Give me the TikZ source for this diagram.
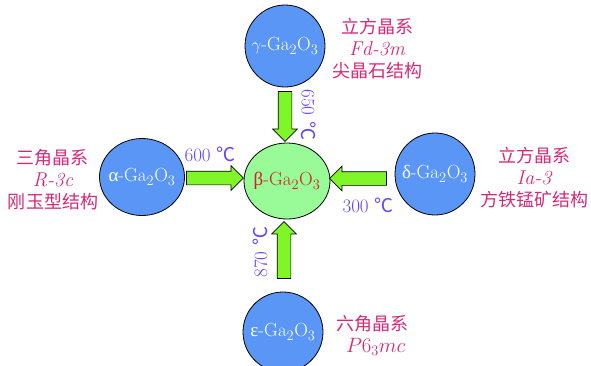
\documentclass[tikz,border=0pt]{standalone}
\usepackage{fontspec}
\newfontfamily\cjk{Noto Sans CJK SC}
\newfontfamily\grk{Liberation Serif}
\usetikzlibrary{shapes.geometric,shapes.arrows}
\definecolor{phaseblue}{RGB}{90,150,245}
\definecolor{betagreen}{RGB}{152,251,152}
\definecolor{arrowgreen}{RGB}{128,245,40}
\definecolor{labelpink}{RGB}{214,40,120}
\definecolor{tempblue}{RGB}{100,70,250}
\definecolor{betared}{RGB}{210,30,40}
\tikzset{
  phase/.style={ellipse,draw=black,line width=0.8pt,fill=phaseblue,
    inner sep=0pt,label={[text=white,font=\fontsize{19}{22}\selectfont]center:#1}},
  betaphase/.style={ellipse,draw=black,line width=0.8pt,fill=betagreen,
    inner sep=0pt,label={[text=betared,font=\fontsize{19}{22}\selectfont]center:#1}},
  blockarrow/.style={single arrow,draw=black,line width=0.7pt,fill=arrowgreen,
    minimum width=24pt,single arrow head extend=5.5pt,single arrow tip angle=90,
    inner xsep=0pt,inner ysep=6.5pt,minimum height=57pt},
  info/.style={text=labelpink,align=center,font=\fontsize{18}{22}\selectfont},
  temp/.style={text=tempblue,font=\fontsize{19}{20}\selectfont},
}
\newcommand{\gao}{-Ga$_2$O$_3$}
\newcommand{\degc}{{\cjk ℃}}
\newcommand{\latin}[1]{{\fontsize{20}{22}\selectfont\itshape #1}}
\begin{document}
\begin{tikzpicture}[x=1pt,y=-1pt]
\useasboundingbox (0,0) rectangle (591,365);
% phases
\node[phase={$\gamma$\gao},minimum width=80pt,minimum height=82pt] (gamma) at (285,46) {};
\node[phase={{\grk α}\gao},minimum width=85pt,minimum height=77pt] (alpha) at (142,177) {};
\node[betaphase={{\grk β}\gao},minimum width=86pt,minimum height=76pt] (beta) at (287,181) {};
\node[phase={{\grk δ}\gao},minimum width=80pt,minimum height=82pt] (delta) at (435,174) {};
\node[phase={{\grk ε}\gao},minimum width=80pt,minimum height=80pt] (eps) at (283,332) {};
% arrows
\node[blockarrow,minimum height=50pt,rotate=-90] (agb) at (285,113) {};
\node[blockarrow,minimum height=57pt] (aab) at (211.5,178) {};
\node[blockarrow,minimum height=57pt,rotate=180] (adb) at (361.5,178.5) {};
\node[blockarrow,minimum height=57pt,rotate=90] (aeb) at (284,253.5) {};
% temperatures
\node[temp,rotate=-90] (t650) at (309,115) {650 \degc};
\node[temp] (t600) at (210,154) {600 \degc};
\node[temp] (t300) at (368,205) {300 \degc};
\node[temp,rotate=90] (t870) at (260,252) {870 \degc};
% info texts
\node[info] (ig) at (377,49) {{\cjk 立方晶系}\\ \latin{Fd-3m}\\ {\cjk 尖晶石结构}};
\node[info] (ia) at (53,180) {{\cjk 三角晶系}\\ \latin{R-3c}\\ {\cjk 刚玉型结构}};
\node[info] (id) at (534,178) {{\cjk 立方晶系}\\ \latin{Ia-3}\\ {\cjk 方铁锰矿结构}};
\node[info,align=left] (ie) at (372,335) {{\cjk 六角晶系}\\ \hspace*{10pt}{\fontsize{20}{22}\selectfont$P6_3mc$}};
\end{tikzpicture}
\end{document}
